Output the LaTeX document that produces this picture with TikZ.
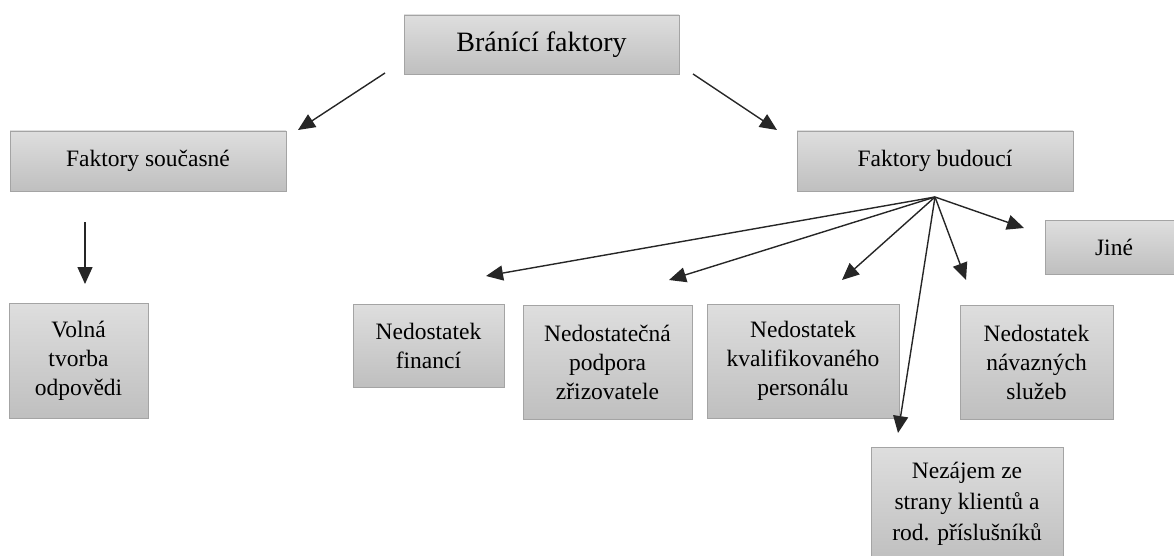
\documentclass[tikz,border=0pt]{standalone}
\usepackage{fontspec}
\setmainfont{Liberation Serif}
\usetikzlibrary{arrows.meta}
\definecolor{boxtop}{HTML}{DEDEDE}
\definecolor{boxbot}{HTML}{BFBFBF}
\definecolor{boxline}{HTML}{A4A4A4}
\definecolor{arrowc}{HTML}{262626}
\begin{document}
\begin{tikzpicture}[x=1pt,y=-1pt,
  box/.style={draw=boxline, line width=0.9pt, top color=boxtop, bottom color=boxbot,
    align=center, inner sep=0pt, font=\fontsize{23.5}{29}\selectfont},
  link/.style={draw=arrowc, line width=1.4pt, -{Triangle[length=17pt,width=15pt]}}]
\useasboundingbox (0,0) rectangle (1174,556);
\clip (0,0) rectangle (1174,556);
% boxes
\node[box, minimum width=275pt, minimum height=59pt, font=\fontsize{28}{32}\selectfont] (top) at (541.5,44.5) {Bránící faktory};
\node[box, minimum width=276pt, minimum height=60pt] (cur) at (148,161) {Faktory současné};
\node[box, minimum width=276pt, minimum height=60pt] (fut) at (935,161) {Faktory budoucí};
\node[box, minimum width=139pt, minimum height=115pt] (volna) at (78.5,360.5) {Volná\\tvorba\\odpovědi};
\node[box, minimum width=151pt, minimum height=83pt] (fin) at (428.5,345.5) {Nedostatek\\financí};
\node[box, minimum width=169pt, minimum height=114pt] (podp) at (607.5,362) {Nedostatečná\\podpora\\zřizovatele};
\node[box, minimum width=192pt, minimum height=114pt] (kval) at (803,361) {Nedostatek\\kvalifikovaného\\personálu};
\node[box, minimum width=153pt, minimum height=114pt] (sluz) at (1036.5,362) {Nedostatek\\návazných\\služeb};
\node[box, minimum width=138pt, minimum height=54pt] (jine) at (1114,247) {Jiné};
\node[box, minimum width=192pt, minimum height=114pt, font=\fontsize{23.5}{31}\selectfont] (nez) at (967,504) {Nezájem ze\\strany klientů a\\rod. příslušníků};
% connector end points
\coordinate (topL) at (385,73);
\coordinate (curT) at (298,130);
\coordinate (topR) at (693,74);
\coordinate (futT) at (777,130);
\coordinate (curB) at (85,222);
\coordinate (volT) at (85,284);
\coordinate (hub) at (935,197);
\coordinate (finT) at (486,276);
\coordinate (podT) at (669,280);
\coordinate (kvaT) at (842,280);
\coordinate (sluT) at (966,280);
\coordinate (jinT) at (1024,228);
\coordinate (nezT) at (898,433);
% connectors
\draw[link] (topL) -- (curT);
\draw[link] (topR) -- (futT);
\draw[link] (curB) -- (volT);
\foreach \t in {finT,podT,kvaT,sluT,jinT,nezT}
  \draw[link] (hub) -- (\t);
\end{tikzpicture}
\end{document}
